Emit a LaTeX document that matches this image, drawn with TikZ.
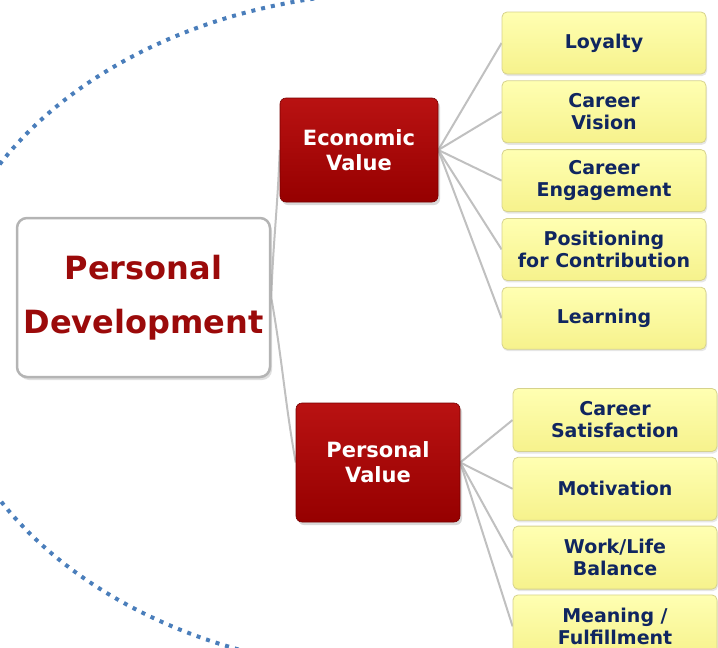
\documentclass[tikz,border=0pt]{standalone}
\usepackage{fontspec}
\setmainfont{DejaVu Sans}
\usetikzlibrary{positioning}
\usetikzlibrary{shadows}
\usetikzlibrary{backgrounds}

\definecolor{rootred}{RGB}{155,10,10}
\definecolor{rootline}{RGB}{180,180,180}
\definecolor{branchtop}{RGB}{185,18,18}
\definecolor{branchbot}{RGB}{150,0,0}
\definecolor{leaftop}{RGB}{255,255,178}
\definecolor{leafbot}{RGB}{246,242,140}
\definecolor{leafline}{RGB}{214,210,140}
\definecolor{leaftext}{RGB}{16,38,96}
\definecolor{linkgray}{RGB}{192,192,192}
\definecolor{arcblue}{RGB}{74,126,187}

\begin{document}
\begin{tikzpicture}[x=1pt,y=-1pt,
  root/.style={draw=rootline,line width=2.5pt,fill=white,rounded corners=10pt,
    minimum width=253pt,minimum height=159pt,inner sep=0pt,align=center,
    text=rootred,font=\fontsize{32}{54}\selectfont\bfseries,
    drop shadow={shadow xshift=2pt,shadow yshift=-3pt,opacity=0.25}},
  branch/.style={draw=branchbot!80!black,line width=0.6pt,rounded corners=6pt,
    top color=branchtop,bottom color=branchbot,inner sep=0pt,align=center,
    text=white,font=\fontsize{21}{25}\selectfont\bfseries,
    drop shadow={shadow xshift=2pt,shadow yshift=-3pt,opacity=0.3}},
  leaf/.style={draw=leafline,line width=0.8pt,rounded corners=5pt,
    top color=leaftop,bottom color=leafbot,minimum width=204pt,
    inner sep=0pt,align=center,text=leaftext,
    font=\fontsize{19}{22}\selectfont\bfseries,
    drop shadow={shadow xshift=1pt,shadow yshift=-2pt,opacity=0.2}},
  link/.style={draw=linkgray,line width=2pt}]
  \useasboundingbox (0,0) rectangle (718,648);
  \clip (0,0) rectangle (718,648);

  %centre
  \node[root] (pd) at (143.5,297.5) {Personal\\Development};
  \node[branch,minimum width=158pt,minimum height=104pt] (ev) at (359,150) {Economic\\Value};
  \node[branch,minimum width=164pt,minimum height=119pt] (pv) at (378,462.5) {Personal\\Value};

  %top
  \node[leaf,minimum height=62pt] (loyalty) at (604,43) {Loyalty};
  \node[leaf,minimum height=62pt,below=6pt of loyalty] (vision) {Career\\Vision};
  \node[leaf,minimum height=62pt,below=6pt of vision] (engage) {Career\\Engagement};
  \node[leaf,minimum height=62pt,below=6pt of engage] (position) {Positioning\\for Contribution};
  \node[leaf,minimum height=62pt,below=6pt of position] (learning) {Learning};

  %bottom
  \node[leaf,minimum height=63pt] (satisf) at (615,420) {Career\\Satisfaction};
  \node[leaf,minimum height=63pt,below=5pt of satisf] (motiv) {Motivation};
  \node[leaf,minimum height=63pt,below=5pt of motiv] (worklife) {Work/Life\\Balance};
  \node[leaf,minimum height=63pt,below=5pt of worklife] (meaning) {Meaning /\\Fulfillment};

  \begin{scope}[on background layer]
    \begin{scope}
      \clip (0,0) rectangle (330,648);
      \draw[arcblue,line width=4pt,dash pattern=on 4pt off 6pt] (406,332) ellipse [x radius=467pt,y radius=340pt];
    \end{scope}
    \draw[link] (pd.east) to[out=88,in=-92] (ev.west);
    \draw[link] (pd.east) to[out=-80,in=100] (pv.west);
    \foreach \n in {loyalty,vision,engage,position,learning}
      \draw[link] (ev.east) -- (\n.west);
    \foreach \n in {satisf,motiv,worklife,meaning}
      \draw[link] (pv.east) -- (\n.west);
  \end{scope}
\end{tikzpicture}
\end{document}
